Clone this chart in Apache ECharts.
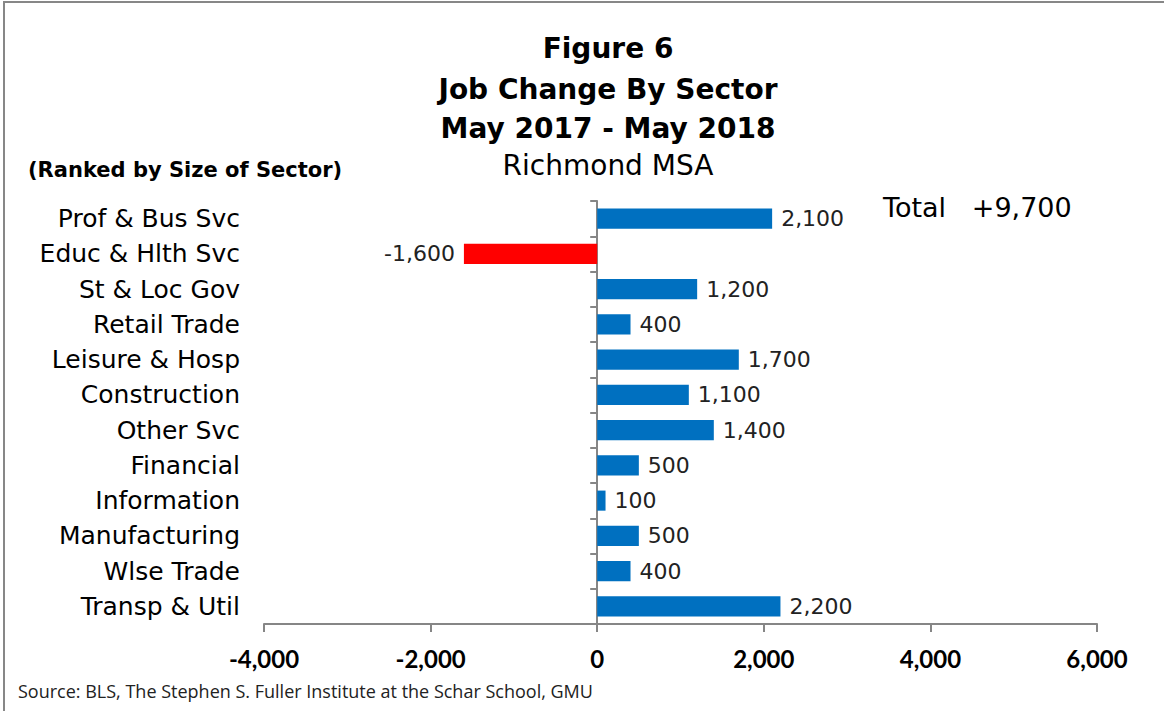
<!DOCTYPE html>
<html>
<head>
<meta charset="utf-8">
<script src="https://cdn.jsdelivr.net/npm/echarts@6/dist/echarts.min.js"></script>
<style>
html,body{margin:0;padding:0;background:#fff;}
#chart{width:1164px;height:711px;}
</style>
</head>
<body>
<div id="chart"></div>
<script>
const categories = ['Prof & Bus Svc','Educ & Hlth Svc','St & Loc Gov','Retail Trade','Leisure & Hosp','Construction','Other Svc','Financial','Information','Manufacturing','Wlse Trade','Transp & Util'];
const jobChange = [2100,-1600,1200,400,1700,1100,1400,500,100,500,400,2200];
const xTicks = {min:-4000, max:6000, interval:2000};
const titleLines = ['Figure 6','Job Change By Sector','May 2017 - May 2018','Richmond MSA'];
const rankNote = '(Ranked by Size of Sector)';
const totalNote = 'Total   +9,700';
const sourceNote = 'Source: BLS, The Stephen S. Fuller Institute at the Schar School, GMU';

const fmt = v => Number(v).toLocaleString('en-US');
const SANS = '"DejaVu Sans", "Liberation Sans", sans-serif';
const chart = echarts.init(document.getElementById('chart'), null, {renderer:'svg'});

const gridLeft = 264, gridRight = 67;
const gridWidth = 1164 - gridLeft - gridRight;
const zeroOffset = -(0 - xTicks.min) / (xTicks.max - xTicks.min) * gridWidth;

const barData = jobChange.map(v => ({
  value: v,
  itemStyle: {color: v < 0 ? '#FF0000' : '#0070C0'},
  label: {position: v < 0 ? 'left' : 'right'}
}));

const titleY = [48, 89, 128, 165];
const graphics = [
  {type:'rect', shape:{x:4, y:2, width:1400, height:1000}, style:{fill:'none', stroke:'#878787', lineWidth:2}, silent:true},
  {type:'text', x:28, y:170, style:{text:rankNote, font:'bold 21px ' + SANS, fill:'#000', textVerticalAlign:'middle'}},
  {type:'text', x:883, y:207, style:{text:totalNote, font:'27px ' + SANS, fill:'#000', textVerticalAlign:'middle'}},
  {type:'text', x:18, y:691, style:{text:sourceNote, font:'18px "Open Sans", Lato, sans-serif', fill:'#222', textVerticalAlign:'middle'}}
];
titleLines.forEach((t,i) => {
  graphics.push({type:'text', x:608, y:titleY[i], style:{text:t, font:(i<3?'bold ':'')+'28px ' + SANS, fill:'#000', textAlign:'center', textVerticalAlign:'middle'}});
});

chart.setOption({
  animation:false,
  backgroundColor:'#fff',
  graphic: graphics,
  grid:{left:gridLeft, right:gridRight, top:201, bottom:87, containLabel:false},
  xAxis:{
    type:'value', min:xTicks.min, max:xTicks.max, interval:xTicks.interval,
    splitLine:{show:false},
    axisLine:{show:true, lineStyle:{color:'#868686', width:2}},
    axisTick:{show:true, length:8, lineStyle:{color:'#868686', width:2}},
    axisLabel:{formatter:fmt, fontFamily:'Lato, "Open Sans", sans-serif', fontWeight:'bold', fontSize:24, color:'#000', margin:22}
  },
  yAxis:[
    {
      type:'category', data:categories, inverse:true, position:'left',
      axisLine:{show:false}, axisTick:{show:false},
      axisLabel:{fontFamily:SANS, fontSize:25, color:'#000', margin:24}
    },
    {
      type:'category', data:categories, inverse:true, position:'left', offset:zeroOffset,
      axisLine:{show:true, onZero:false, lineStyle:{color:'#868686', width:2}},
      axisTick:{show:true, length:7, lineStyle:{color:'#868686', width:2}},
      axisLabel:{show:false}
    }
  ],
  series:[{
    type:'bar', yAxisIndex:0, data:barData, barCategoryGap:'43%',
    label:{show:true, formatter:p => fmt(p.value), fontFamily:SANS, fontSize:22, color:'#222', distance:9}
  }]
});
</script>
</body>
</html>
